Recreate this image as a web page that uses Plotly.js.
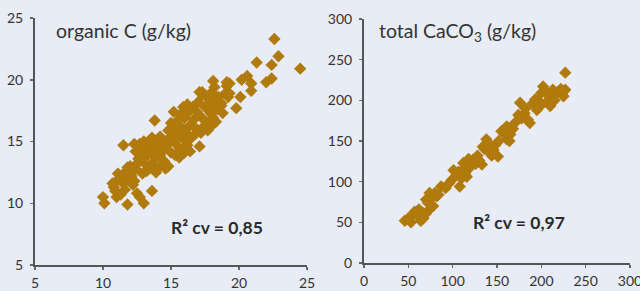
<!DOCTYPE html>
<html><head><meta charset="utf-8">
<script src="https://cdn.plot.ly/plotly-3.0.1.min.js"></script>
<style>html,body{margin:0;padding:0;background:#e8ecf6;}#c{width:640px;height:291px;}</style>
</head><body><div id="c"></div>
<script>
// Left panel: organic C (g/kg) — measured (x) vs predicted (y)
const orgC_x = [22.6,22.9,24.5,21.3,22.4,22.4,22.0,20.6,20.2,20.9,20.9,20.1,19.8,19.3,19.1,18.1,18.2,17.3,19.2,18.7,18.1,18.1,18.1,17.2,17.1,16.4,13.8,11.5,12.3,13.6,11.8,10.0,10.1,11.0,12.5,12.7,13.0,
10.8,11.0,11.2,11.1,11.5,11.4,11.7,11.9,12.1,12.3,12.2,10.9,11.3,11.6,12.0,12.4,11.8,10.7,12.5,12.1,
12.6,12.8,13.0,13.1,13.3,13.2,13.5,13.6,13.7,13.8,13.9,14.0,14.1,14.2,14.3,12.9,13.4,12.7,13.0,13.6,14.4,14.5,14.6,12.4,13.9,14.8,14.2,
14.7,14.9,15.0,15.1,15.2,15.3,15.4,15.5,15.6,15.7,15.8,15.9,16.0,16.1,16.2,16.3,16.4,16.5,15.2,15.0,16.0,15.6,14.8,16.6,16.7,16.8,16.2,15.9,
16.9,17.0,17.2,17.3,17.5,17.6,17.8,17.9,18.0,18.2,18.4,18.5,18.7,19.0,19.1,17.4,16.9,18.3,17.1,18.8,19.3,17.7];
const orgC_y = [23.3,21.9,20.9,21.4,21.2,20.1,19.8,20.3,20.0,19.7,19.1,18.6,17.7,19.7,19.5,19.9,19.4,19.0,18.6,18.1,17.5,16.9,16.4,15.7,14.6,14.2,16.7,14.7,14.8,11.0,9.9,10.5,10.0,10.5,10.8,10.5,10.0,
11.3,11.8,12.0,12.4,11.6,12.2,12.6,12.0,12.5,11.8,11.5,11.0,10.7,11.1,13.0,12.8,12.9,11.6,13.2,12.2,
13.6,14.1,13.3,14.4,13.9,12.6,14.8,13.2,14.2,15.1,13.7,14.6,12.9,13.9,15.2,12.4,12.8,14.8,15.0,15.3,14.3,13.4,12.8,14.2,12.5,13.0,15.4,
14.7,15.3,14.1,16.0,15.0,13.9,16.6,15.6,14.5,17.2,16.1,15.2,16.9,15.7,14.7,17.4,16.3,15.3,17.4,16.5,14.1,13.7,15.9,17.8,16.8,15.6,18.0,17.8,
17.4,18.2,17.0,18.8,17.8,16.6,18.4,17.3,19.0,18.0,17.6,18.6,17.9,18.9,19.8,16.2,16.0,16.6,19.0,17.3,18.9,15.9];

// Right panel: total CaCO3 (g/kg)
const caco3_x = [46,53,57,67,70,74,70,74,82,87,99,101,108,116,112,123,133,134,138,146,151,155,161,165,174,176,187,181,193,200,202,210,213,225,227,227,195,161,
50,55,60,62,64,66,72,76,78,80,84,92,96,104,106,110,112,114,118,120,126,128,130,136,140,142,144,148,152,158,164,168,170,178,182,185,190,196,198,204,206,208,215,218,222,224];
const caco3_y = [52,50,63,55,61,66,78,86,82,94,102,114,94,106,123,127,121,143,152,139,131,162,168,158,182,197,172,184,201,209,217,193,213,205,213,234,188,152,
55,58,60,66,52,62,74,80,70,86,84,92,98,108,112,104,116,110,128,118,122,132,126,140,148,136,132,145,150,160,150,165,172,178,190,176,196,200,192,212,198,206,200,210,214,210];

const mk = {symbol:'diamond', size:9.5, color:'#b07a0c', line:{width:0}};
const FAM = 'Lato, "Open Sans", sans-serif';
const font = {family:FAM, size:14, color:'#333333'};
const axBase = {showgrid:false, zeroline:false, showline:true, linecolor:'#555555', linewidth:2,
  ticks:'outside', ticklen:3, tickcolor:'#666666', tickwidth:1.5, tickfont:font, fixedrange:true,
  ticklabeloverflow:'allow'};

const data = [
  {type:'scatter', mode:'markers', x:orgC_x, y:orgC_y, marker:mk, xaxis:'x', yaxis:'y', hoverinfo:'skip', cliponaxis:false},
  {type:'scatter', mode:'markers', x:caco3_x, y:caco3_y, marker:mk, xaxis:'x2', yaxis:'y2', hoverinfo:'skip', cliponaxis:false}
];
const layout = {
  width:640, height:291, margin:{l:0,r:0,t:0,b:0},
  paper_bgcolor:'#e8ecf6', plot_bgcolor:'#e8ecf6', showlegend:false,
  xaxis:Object.assign({}, axBase, {domain:[35/640, 307/640], range:[5,25], tickvals:[5,10,15,20,25], anchor:'y', ticklabelstandoff:1}),
  yaxis:Object.assign({}, axBase, {domain:[1-265/291, 1-18/291], range:[5,25], tickvals:[5,10,15,20,25], anchor:'x', ticklabelstandoff:4}),
  xaxis2:Object.assign({}, axBase, {domain:[364/640, 630/640], range:[0,300], tickvals:[0,50,100,150,200,250,300], anchor:'y2', ticklabelstandoff:1}),
  yaxis2:Object.assign({}, axBase, {domain:[1-263/291, 1-19/291], range:[0,300], tickvals:[0,50,100,150,200,250,300], anchor:'x2', ticklabelstandoff:4}),
  annotations:[
    {text:'organic C (g/kg)', xref:'paper', yref:'paper', x:54/640, y:1-31/291, xanchor:'left', yanchor:'middle', showarrow:false,
     font:{family:FAM, size:19.5, color:'#333333'}},
    {text:'R² cv = 0,85', xref:'paper', yref:'paper', x:217/640, y:1-227/291, xanchor:'center', yanchor:'middle', showarrow:false,
     font:{family:FAM, size:17.5, color:'#2a2a2a', weight:'bold'}},
    {text:'total CaCO<sub>3</sub> (g/kg)', xref:'paper', yref:'paper', x:377/640, y:1-32/291, xanchor:'left', yanchor:'middle', showarrow:false,
     font:{family:FAM, size:19.5, color:'#333333'}},
    {text:'R² cv = 0,97', xref:'paper', yref:'paper', x:519/640, y:1-222/291, xanchor:'center', yanchor:'middle', showarrow:false,
     font:{family:FAM, size:17.5, color:'#2a2a2a', weight:'bold'}}
  ]
};
Plotly.newPlot('c', data, layout, {staticPlot:true, displayModeBar:false});
</script></body></html>
